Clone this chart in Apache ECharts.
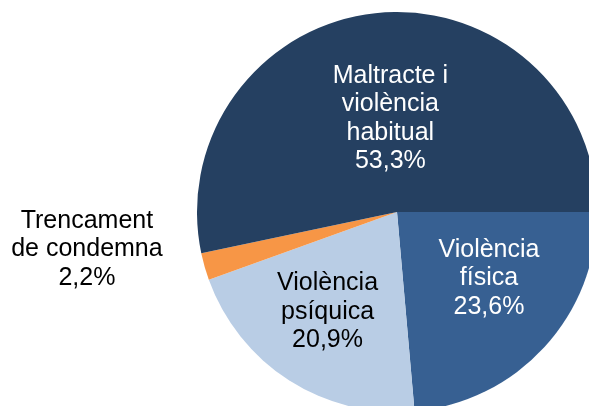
<!DOCTYPE html>
<html>
<head>
<meta charset="utf-8">
<script src="https://cdn.jsdelivr.net/npm/echarts@6/dist/echarts.min.js"></script>
<style>
  html, body { margin: 0; padding: 0; background: #fff; }
  #chart { width: 589px; height: 406px; }
</style>
</head>
<body>
<div id="chart"></div>
<script>
// Categories, in clockwise order starting at 3 o'clock
const categories = ['Violència\nfísica', 'Violència\npsíquica', 'Trencament\nde condemna', 'Maltracte i\nviolència\nhabitual'];
const shares = [23.6, 20.9, 2.2, 53.3];
const sliceColors = ['#376092', '#B9CDE5', '#F79646', '#254061'];
const labelColors = ['#ffffff', '#000000', '#000000', '#ffffff'];
// label nudges from the default inside position
const labelOffsets = [[16, -3], [-14, 13], [-211, 9], [4, 9]];

const chart = echarts.init(document.getElementById('chart'), null, { renderer: 'canvas' });

const data = categories.map((name, i) => ({
  name: name,
  value: shares[i],
  itemStyle: { color: sliceColors[i] },
  label: { color: labelColors[i], offset: labelOffsets[i] }
}));

chart.setOption({
  animation: false,
  series: [{
    type: 'pie',
    center: [397, 212],
    radius: [0, 200],
    startAngle: 0,
    clockwise: true,
    avoidLabelOverlap: false,
    silent: true,
    label: {
      show: true,
      position: 'inside',
      fontFamily: 'Liberation Sans, Arial, sans-serif',
      fontSize: 25,
      lineHeight: 28.5,
      align: 'center',
      formatter: p => p.name + '\n' + p.value.toFixed(1).replace('.', ',') + '%'
    },
    labelLine: { show: false },
    itemStyle: { borderWidth: 0 },
    data: data
  }]
});
</script>
</body>
</html>
